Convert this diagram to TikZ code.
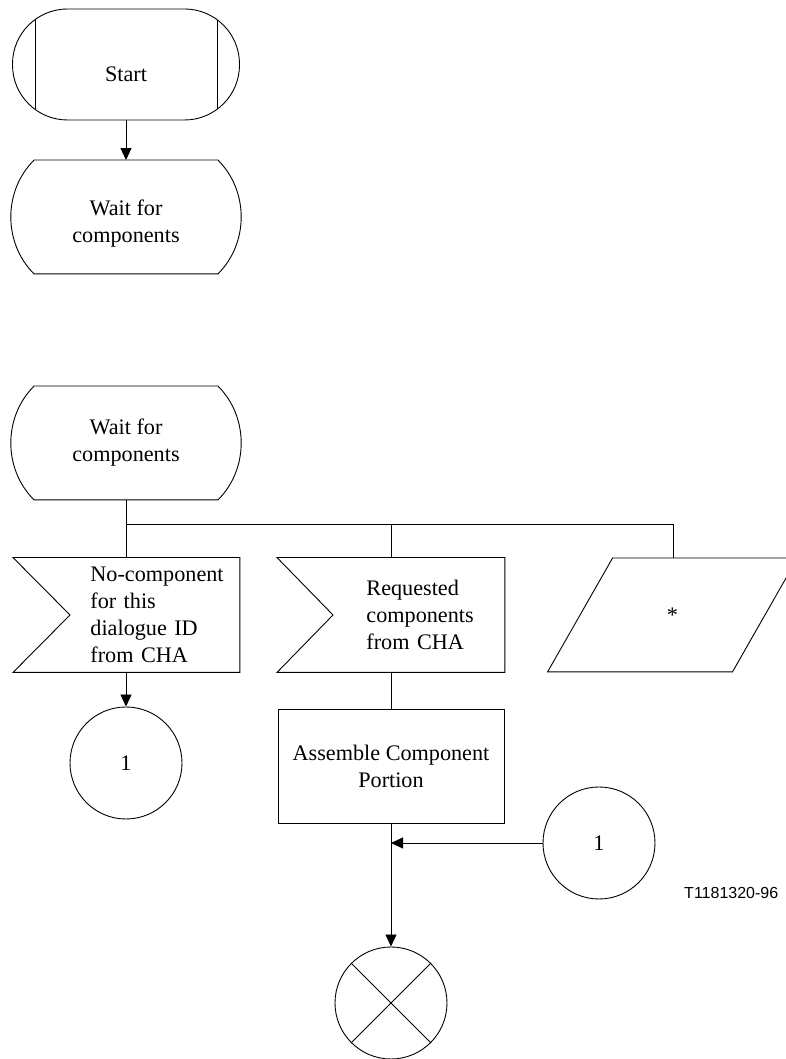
\documentclass[tikz,border=0pt]{standalone}
\usepackage{fontspec}
\setmainfont{Liberation Serif}
\newfontfamily\figfont{Liberation Sans}
\usetikzlibrary{arrows.meta}

\begin{document}
\begin{tikzpicture}[x=1pt, y=1pt, line width=0.9pt,
    font=\fontsize{22.2pt}{27pt}\selectfont,
    flow/.style={-{Triangle[length=12pt, width=11pt]}},
    waitbox/.style={minimum width=183pt, minimum height=113pt, align=center},
    sigbox/.style={minimum height=114pt, inner sep=0pt, align=left, anchor=west},
    connector/.style={draw, circle, minimum size=112pt, inner sep=0pt}]
    \useasboundingbox (0,0) rectangle (786,1059);
    \clip (0,0) rectangle (786,1059);

    % Start
    \node[draw, rounded corners=55pt, minimum width=227pt, minimum height=111pt,
        text height=35pt, text depth=0pt] (start) at (126,994.5) {Start};
    \draw ([xshift=-91pt,yshift=44.5pt]start.center) -- ([xshift=-91pt,yshift=-44.5pt]start.center);
    \draw ([xshift=91pt,yshift=44.5pt]start.center) -- ([xshift=91pt,yshift=-44.5pt]start.center);

    % Wait for components (first)
    \node[waitbox, text height=57pt, text depth=5pt] (wait1) at (126,842) {Wait for\\components};
    \draw (wait1.north west) -- (wait1.north east) .. controls +(31,-31) and +(31,31) .. (wait1.south east)
        -- (wait1.south west) .. controls +(-31,31) and +(-31,-31) .. (wait1.north west) -- cycle;
    \draw[flow] (start) -- (wait1);

    % Wait for components (second)
    \node[waitbox] (wait2) at (126,616) {Wait for\\components};
    \draw (wait2.north west) -- (wait2.north east) .. controls +(31,-31) and +(31,31) .. (wait2.south east)
        -- (wait2.south west) .. controls +(-31,31) and +(-31,-31) .. (wait2.north west) -- cycle;

    % Branches
    \coordinate (jl) at (126,535);
    \coordinate (jm) at (391,535);
    \coordinate (jr) at (673,535);
    \draw (wait2) -- (jl) -- (jr);

    % Inputs
    \node[sigbox, text width=149pt] (sig1) at (90,444) {No-component\\for this\\dialogue ID\\from CHA};
    \draw ([xshift=-77pt]sig1.north west) -- (sig1.north east) -- (sig1.south east)
        -- ([xshift=-77pt]sig1.south west) -- ([xshift=-20pt]sig1.west) -- cycle;
    \node[sigbox, text width=138pt] (sig2) at (366,444) {Requested\\components\\from CHA};
    \draw ([xshift=-89pt]sig2.north west) -- (sig2.north east) -- (sig2.south east)
        -- ([xshift=-89pt]sig2.south west) -- ([xshift=-33pt]sig2.west) -- cycle;
    \node[minimum width=184pt, minimum height=113pt] (other) at (672.5,444) {\raisebox{-5pt}{*}};
    \draw ([xshift=-32.5pt]other.south west) -- ([xshift=-32.5pt]other.south east)
        -- ([xshift=32.5pt]other.north east) -- ([xshift=32.5pt]other.north west) -- cycle;
    \draw (jl) -- (jl |- sig1.north);
    \draw (jm) -- (jm |- sig2.north);
    \draw (jr) -- (jr |- other.north);

    % Connector out
    \node[connector] (c1) at (126,296) {1};
    \draw[flow] (c1 |- sig1.south) -- (c1);

    % Assemble
    \node[draw, minimum width=226pt, minimum height=114pt, align=center] (asm) at (391,293) {Assemble Component\\Portion};
    \draw (asm |- sig2.south) -- (asm);

    % Connector in and stop
    \node[connector] (c2) at (599,216) {1};
    \node[connector] (stop) at (391,56) {};
    \draw (stop.north west) -- (stop.south east) (stop.north east) -- (stop.south west);
    \draw[flow] (asm) -- (stop);
    \draw[flow] (c2) -- (c2 -| asm);

    \node[font=\figfont\fontsize{16pt}{18pt}\selectfont, anchor=east] (fignum) at (782,166) {T1181320-96};
\end{tikzpicture}
\end{document}
